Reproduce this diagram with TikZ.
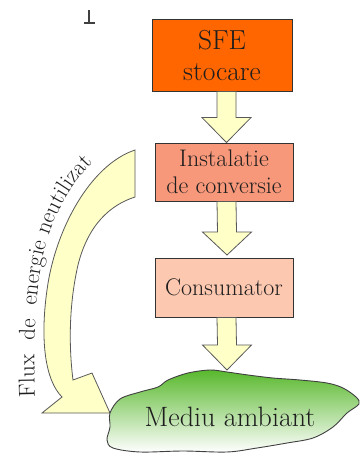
\documentclass[tikz,border=0pt]{standalone}
\usetikzlibrary{calc,shadows,decorations.text}
\definecolor{sfeor}{HTML}{FF6600}
\definecolor{instc}{HTML}{F7987A}
\definecolor{consc}{HTML}{FDC8B0}
\definecolor{arry}{HTML}{FFFFC8}
\definecolor{grn}{HTML}{58B82C}
\definecolor{txt}{HTML}{1E1E1E}
\tikzset{
  box/.style={draw=black!80, line width=0.9pt, text=txt, align=center, inner sep=0pt,
    drop shadow={shadow xshift=1.3pt, shadow yshift=-1.3pt, fill=black!45}},
  arrsty/.style={draw=black!65, line width=0.8pt, fill=arry, line join=miter},
}
\newcommand\blockarrow[3]{%
  \filldraw[arrsty] ($(#1)+(-9.5,0)$) -- ($(#2)+(-9.5,-#3)$) -- ($(#2)+(-24.5,-#3)$) -- (#2)
    -- ($(#2)+(24.5,-#3)$) -- ($(#2)+(9.5,-#3)$) -- ($(#1)+(9.5,0)$) -- cycle;}
\begin{document}
\begin{tikzpicture}[x=1pt, y=-1pt]
\useasboundingbox (0,0) rectangle (360,458);
\fill[white] (0,0) rectangle (360,458);

% small mark
\draw[black!75, line width=1.2pt] (89,10) -- (89,23) (84,23) -- (95,23);

% nodes
\node[box, fill=sfeor, minimum width=140pt, minimum height=72pt,
  font=\fontsize{27.5}{31}\selectfont] (sfe) at (222,55) {SFE\\stocare};
\node[box, fill=instc, minimum width=138pt, minimum height=58pt,
  font=\fontsize{24}{27}\selectfont] (inst) at (224,172) {Instalatie\\de conversie};
\node[box, fill=consc, minimum width=138pt, minimum height=59pt,
  font=\fontsize{24}{27}\selectfont] (cons) at (224,287.5) {Consumator};

\coordinate (ax) at (226.5,0);
\coordinate (a1s) at (ax |- sfe.south);
\coordinate (a1e) at (ax |- inst.north);
\coordinate (a2s) at (ax |- inst.south);
\coordinate (a2e) at (227,255);
\coordinate (a3s) at (ax |- cons.south);
\coordinate (envtop) at (227,370);

\blockarrow{a1s}{a1e}{25}
\blockarrow{a2s}{a2e}{23}
\blockarrow{a3s}{envtop}{25}

% curved arrow
\filldraw[arrsty] (135,150) .. controls (90,165) and (55,230) .. (47,290)
  .. controls (40,340) and (45,380) .. (62,397)
  -- (42,413) -- (110,413) -- (92,373) -- (73,380)
  .. controls (68,340) and (70,300) .. (78,265)
  .. controls (88,225) and (110,205) .. (135,197) -- cycle;

% environment cloud
\path[draw=black!75, line width=0.9pt, top color=grn, bottom color=white]
  plot[smooth cycle, tension=0.55] coordinates {
  (110,413) (120,399) (140,392) (158,387) (168,380) (188,373) (210,370) (227,372)
  (248,375) (273,378) (300,380) (327,383) (343,388) (356,397) (359,404) (347,413)
  (333,427) (313,438) (287,443) (257,448) (227,452) (183,451) (140,452) (113,448)
  (107,440) (110,427)};
\node[text=txt, font=\fontsize{28}{28}\selectfont, inner sep=0pt] (env) at (230,417) {Mediu ambiant};

% text along the curved arrow
\path[decorate, decoration={text along path,
  text={|\fontsize{23}{23}\selectfont\color{txt}|Flux{ }{ }de{ }{ }energie neutilizat},
  text align=left}]
  (35,397) .. controls (33,330) and (36,270) .. (50,232)
  .. controls (62,198) and (80,172) .. (110,148);
\end{tikzpicture}
\end{document}
